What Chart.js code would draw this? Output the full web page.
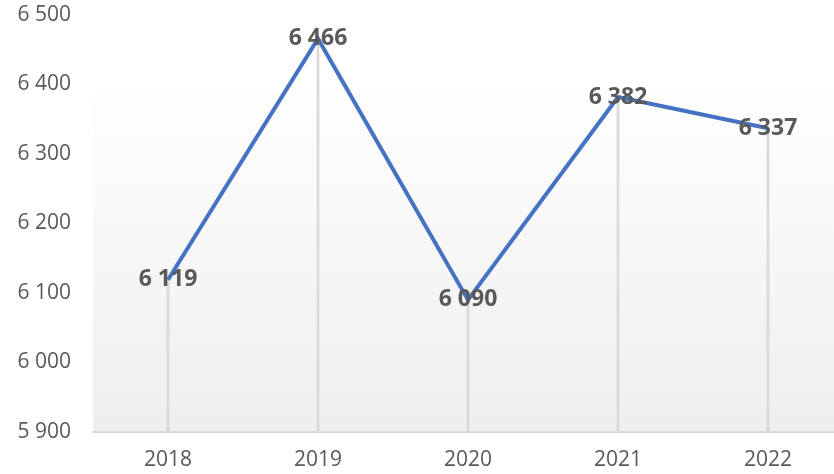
<!DOCTYPE html>
<html>
<head>
<meta charset="utf-8">
<script src="https://cdn.jsdelivr.net/npm/chart.js@4"></script>
<style>
  html, body { margin: 0; padding: 0; width: 834px; height: 474px; overflow: hidden; background: #fff; }
  #wrap { width: 843px; height: 474px; }
</style>
</head>
<body>
<div id="wrap"><canvas id="lineChart" width="843" height="474"></canvas></div>
<script>
const years = ['2018', '2019', '2020', '2021', '2022'];
const values = [6119, 6466, 6090, 6382, 6337];
const yTicks = [5900, 6000, 6100, 6200, 6300, 6400, 6500];

function fmt(v) {
    return String(v).replace(/\B(?=(\d{3})+(?!\d))/g, ' ');
}

// plot area background, light gradient
const plotBg = {
    id: 'plotBg',
    beforeDraw(chart) {
        const { ctx, chartArea } = chart;
        const g = ctx.createLinearGradient(0, chartArea.top, 0, chartArea.bottom);
        g.addColorStop(0, '#ffffff');
        g.addColorStop(0.15, '#ffffff');
        g.addColorStop(1, '#eeeeee');
        ctx.save();
        ctx.fillStyle = g;
        ctx.fillRect(chartArea.left, chartArea.top, chartArea.right - chartArea.left, chartArea.bottom - chartArea.top);
        ctx.restore();
    }
};

// value labels centred on the points
const valueLabels = {
    id: 'valueLabels',
    afterDatasetsDraw(chart) {
        const meta = chart.getDatasetMeta(1);
        const ctx = chart.ctx;
        ctx.save();
        ctx.font = 'bold 23px "Open Sans", sans-serif';
        ctx.fillStyle = '#595959';
        ctx.textAlign = 'center';
        ctx.textBaseline = 'middle';
        meta.data.forEach((pt, i) => {
            ctx.fillText(fmt(values[i]), pt.x, pt.y);
        });
        ctx.restore();
    }
};

const ctx = document.getElementById('lineChart').getContext('2d');

new Chart(ctx, {
    data: {
        labels: years,
        datasets: [
            {
                // drop lines
                type: 'bar',
                data: values,
                backgroundColor: '#d9d9d9',
                barThickness: 2,
                order: 2
            },
            {
                type: 'line',
                data: values,
                borderColor: '#4472c4',
                borderWidth: 4,
                pointRadius: 0,
                tension: 0,
                fill: false,
                order: 1
            }
        ]
    },
    options: {
        responsive: false,
        animation: false,
        layout: { padding: { top: 15, left: 0, right: 0, bottom: 0 } },
        plugins: {
            legend: { display: false },
            tooltip: { enabled: false }
        },
        scales: {
            x: {
                offset: true,
                afterFit(scale) {
                    scale.height = 42;
                },
                grid: { display: false, drawTicks: false },
                border: { display: true, color: '#d9d9d9', width: 2 },
                ticks: {
                    color: '#595959',
                    font: { family: '"Open Sans", sans-serif', size: 21 },
                    padding: 15
                }
            },
            y: {
                min: 5900,
                max: 6500,
                afterBuildTicks(scale) {
                    scale.ticks = yTicks.map(v => ({ value: v }));
                },
                afterFit(scale) {
                    scale.width = 93;
                    scale.paddingTop = 0;
                    scale.paddingBottom = 0;
                },
                grid: { display: false, drawTicks: false },
                border: { display: false },
                ticks: {
                    color: '#595959',
                    font: { family: '"Open Sans", sans-serif', size: 21 },
                    padding: 22,
                    callback: v => fmt(v)
                }
            }
        }
    },
    plugins: [plotBg, valueLabels]
});
</script>
</body>
</html>
